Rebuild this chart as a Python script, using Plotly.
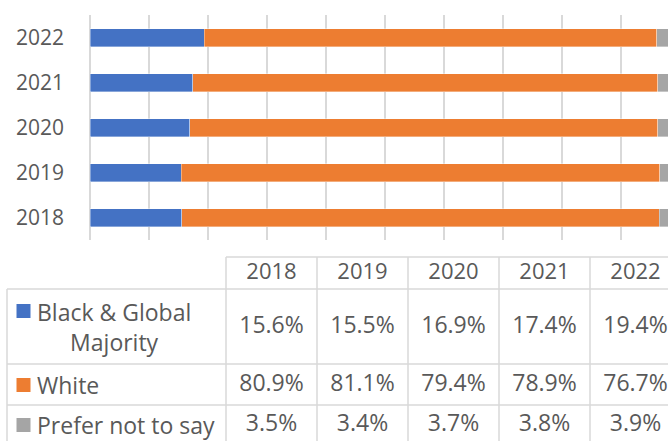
import plotly.graph_objects as go

years = ["2018", "2019", "2020", "2021", "2022"]
series = ["Black & Global Majority", "White", "Prefer not to say"]
black_global = [15.6, 15.5, 16.9, 17.4, 19.4]
white = [80.9, 81.1, 79.4, 78.9, 76.7]
prefer_not = [3.5, 3.4, 3.7, 3.8, 3.9]
colors = ["#4472C4", "#ED7D31", "#A5A5A5"]

values = [black_global, white, prefer_not]
FONT = "Open Sans"
TXT = "#595959"
GRID = "#D9D9D9"
W, H = 668, 441
TABLE_SIZE = 23

fig = go.Figure()

# stacked bars
for name, vals, col in zip(series, values, colors):
    fig.add_trace(go.Bar(
        y=years, x=vals, name=name, orientation="h",
        marker=dict(color=col, line=dict(color="rgba(255,255,255,0.6)", width=0.6)),
        showlegend=False, hoverinfo="x+name",
    ))

# data table drawn on a hidden pixel axis pair
col_left = 226
col_w = 91
first_left = 7
row_edges = [257, 289, 364, 405, 450]


def col_center(j):
    return col_left + col_w * (j + 0.5)


row_centers = [327, 385, 425]
header_y = 273

fig.add_trace(go.Scatter(
    x=[col_center(j) for j in range(len(years))], y=[header_y] * len(years),
    text=years, mode="text", xaxis="x2", yaxis="y2", showlegend=False,
    textfont=dict(family=FONT, size=TABLE_SIZE - 1, color=TXT), hoverinfo="skip",
    cliponaxis=False,
))

for i, vals in enumerate(values):
    fig.add_trace(go.Scatter(
        x=[col_center(j) for j in range(len(vals))], y=[row_centers[i]] * len(vals),
        text=[f"{v:.1f}%" for v in vals], mode="text", xaxis="x2", yaxis="y2",
        showlegend=False, textfont=dict(family=FONT, size=TABLE_SIZE, color=TXT),
        hoverinfo="skip", cliponaxis=False,
    ))

key_y = [311, 385, 425]
fig.add_trace(go.Scatter(
    x=[23.5] * 3, y=key_y, mode="markers", xaxis="x2", yaxis="y2",
    marker=dict(symbol="square", size=14, color=colors, line=dict(width=0)),
    showlegend=False, hoverinfo="skip",
))

row_labels = ["Black & Global<br>Majority", series[1], series[2]]
for lbl, y in zip(row_labels, row_centers):
    fig.add_annotation(
        x=35, y=y, xref="x2", yref="y2",
        text=lbl, showarrow=False, xanchor="left", yanchor="middle", align="center",
        font=dict(family=FONT, size=TABLE_SIZE, color=TXT),
    )

shapes = []
line = dict(color=GRID, width=1.5)
right_px = col_left + col_w * len(years)
# horizontal borders
shapes.append(dict(type="line", xref="x2", yref="y2", x0=col_left, x1=right_px,
                   y0=row_edges[0], y1=row_edges[0], line=line))
for y in row_edges[1:]:
    shapes.append(dict(type="line", xref="x2", yref="y2", x0=first_left, x1=right_px,
                       y0=y, y1=y, line=line))
# vertical borders
shapes.append(dict(type="line", xref="x2", yref="y2", x0=first_left, x1=first_left,
                   y0=row_edges[1], y1=row_edges[-1], line=line))
for j in range(len(years) + 1):
    x = col_left + col_w * j
    shapes.append(dict(type="line", xref="x2", yref="y2", x0=x, x1=x,
                       y0=row_edges[0], y1=row_edges[-1], line=line))

fig.update_layout(
    width=W, height=H,
    margin=dict(l=0, r=0, t=0, b=0),
    paper_bgcolor="white", plot_bgcolor="rgba(0,0,0,0)",
    barmode="stack", bargap=0.6,
    shapes=shapes,
    xaxis=dict(domain=[90 / W, 1], range=[0, (W - 90) / 5.897], dtick=10,
               showticklabels=False, showgrid=True, gridcolor=GRID, gridwidth=1.5,
               zeroline=True, zerolinecolor=GRID, zerolinewidth=1.5, showline=False,
               fixedrange=True),
    yaxis=dict(domain=[(H - 240) / H, (H - 15) / H], type="category",
               categoryorder="array", categoryarray=years,
               tickfont=dict(family=FONT, size=21, color=TXT),
               ticklabelstandoff=25, showgrid=False, showline=False, ticks=""),
    xaxis2=dict(domain=[0, 1], range=[0, W], visible=False, anchor="y2"),
    yaxis2=dict(domain=[0, 1], range=[H, 0], visible=False, anchor="x2"),
)

fig.write_html("out.html", config={"displayModeBar": False},
               post_script="document.body.style.margin='0';")
